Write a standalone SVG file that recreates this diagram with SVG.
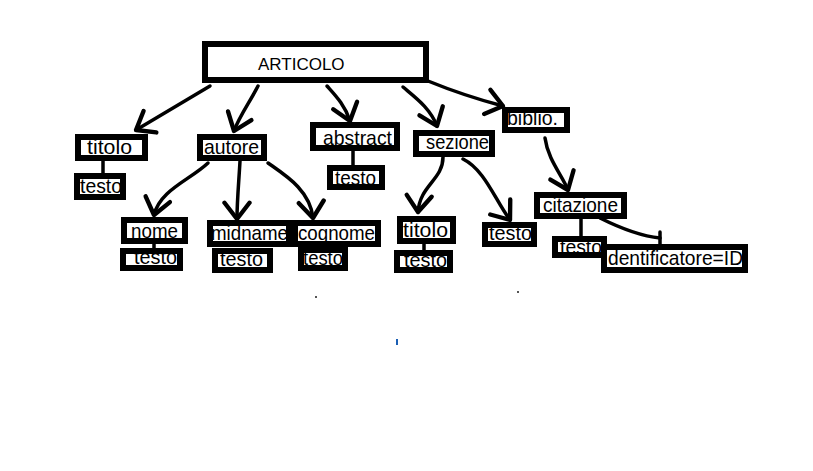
<svg xmlns="http://www.w3.org/2000/svg" width="813" height="471" viewBox="0 0 813 471">
<style>
.box{fill:#fff;stroke:#000;stroke-width:6}
.t{font-family:"Liberation Sans",Arial,sans-serif;font-size:21px;fill:#000}
.big{font-size:17px}
.c{fill:none;stroke:#000;stroke-width:3.5;stroke-linecap:round;stroke-linejoin:round}
.a{marker-end:url(#arr)}
</style>
<defs>
<marker id="arr" markerUnits="userSpaceOnUse" markerWidth="30" markerHeight="30" refX="0" refY="0" viewBox="-16 -12 20 24" orient="auto">
<path d="M-13,-10 L0,0 L-13,10" fill="none" stroke="#000" stroke-width="3.5" stroke-linecap="round" stroke-linejoin="round"/>
</marker>
</defs>
<rect width="813" height="471" fill="#fff"/>
<g id="connectors">
<path class="c a" d="M210,86 L136,130" stroke-width="5"/>
<path class="c a" d="M258,86 C250,102 240,115 234,131"/>
<path class="c a" d="M327,86 C335,95 345,105 350,121"/>
<path class="c a" d="M403,87 C416,98 430,108 437,126"/>
<path class="c a" d="M428,81 C455,92 480,100 503,106"/>
<path class="c a" d="M208,163 C190,180 160,190 154,215"/>
<path class="c a" d="M240,161 C239,180 237,200 237,219"/>
<path class="c a" d="M268,163 C285,175 310,190 313,218"/>
<path class="c a" d="M443,157 C443,180 420,185 418,212"/>
<path class="c a" d="M463,159 C485,170 495,200 510,220"/>
<path class="c a" d="M545,138 C548,160 562,175 568,190"/>
<path class="c" d="M600,218 C620,228 640,236 660,238"/>
<path class="c" d="M660,232 L660,246"/>
<path class="c" d="M103,161 L103,174"/>
<path class="c" d="M353,151 L353,165"/>
<path class="c" d="M154,244 L154,248"/>
<path class="c" d="M325,246 L325,248"/>
<path class="c" d="M424,244 L424,250"/>
<path class="c" d="M581,219 L581,236"/>
</g>
<g id="articolo"><rect class="box" x="205" y="44" width="221" height="36"/><text class="t big" x="258" y="70">ARTICOLO</text></g>
<g id="titolo"><rect class="box" x="78" y="137" width="67" height="21"/><text class="t" x="87" y="154" textLength="45" lengthAdjust="spacingAndGlyphs">titolo</text></g>
<g id="titolo-testo"><rect class="box" x="77" y="176" width="46" height="21"/><text class="t" x="80" y="193" textLength="42" lengthAdjust="spacingAndGlyphs">testo</text></g>
<g id="autore"><rect class="box" x="200" y="137" width="64" height="21"/><text class="t" x="204" y="154" textLength="55" lengthAdjust="spacingAndGlyphs">autore</text></g>
<g id="abstract"><rect class="box" x="313" y="125" width="84" height="23"/><text class="t" x="323" y="145" textLength="69" lengthAdjust="spacingAndGlyphs">abstract</text></g>
<g id="abstract-testo"><rect class="box" x="330" y="168" width="52" height="19"/><text class="t" x="335" y="185" textLength="41" lengthAdjust="spacingAndGlyphs">testo</text></g>
<g id="sezione"><rect class="box" x="416" y="133" width="76" height="21"/><text class="t" x="426" y="149" textLength="63" lengthAdjust="spacingAndGlyphs">sezione</text></g>
<g id="biblio"><rect class="box" x="505" y="110" width="62" height="20"/><text class="t" x="507" y="125" textLength="51" lengthAdjust="spacingAndGlyphs">biblio.</text></g>
<g id="nome"><rect class="box" x="124" y="220" width="61" height="21"/><text class="t" x="131" y="238" textLength="47" lengthAdjust="spacingAndGlyphs">nome</text></g>
<g id="nome-testo"><rect class="box" x="123" y="251" width="57" height="17"/><text class="t" x="134" y="264" textLength="43" lengthAdjust="spacingAndGlyphs">testo</text></g>
<g id="midname"><rect class="box" x="210" y="223" width="79" height="21"/><text class="t" x="211" y="240" textLength="77" lengthAdjust="spacingAndGlyphs">midname</text></g>
<g id="midname-testo"><rect class="box" x="215" y="251" width="55" height="19"/><text class="t" x="220" y="266" textLength="43" lengthAdjust="spacingAndGlyphs">testo</text></g>
<g id="cognome"><rect class="box" x="295" y="223" width="83" height="21"/><text class="t" x="298" y="240" textLength="77" lengthAdjust="spacingAndGlyphs">cognome</text></g>
<g id="cognome-testo"><rect class="box" x="301" y="250" width="44" height="18" stroke-width="4"/><text class="t" x="303" y="265" textLength="40" lengthAdjust="spacingAndGlyphs">testo</text></g>
<g id="sezione-titolo"><rect class="box" x="400" y="219" width="53" height="22"/><text class="t" x="403" y="237" textLength="45" lengthAdjust="spacingAndGlyphs">titolo</text></g>
<g id="sezione-titolo-testo"><rect class="box" x="397" y="253" width="53" height="17"/><text class="t" x="404" y="267" textLength="43" lengthAdjust="spacingAndGlyphs">testo</text></g>
<g id="sezione-testo"><rect class="box" x="485" y="225" width="49" height="19"/><text class="t" x="489" y="240" textLength="43" lengthAdjust="spacingAndGlyphs">testo</text></g>
<g id="citazione"><rect class="box" x="537" y="195" width="87" height="21"/><text class="t" x="543" y="212" textLength="75" lengthAdjust="spacingAndGlyphs">citazione</text></g>
<g id="citazione-testo"><rect class="box" x="555" y="239" width="49" height="16"/><text class="t" x="560" y="254" textLength="42" lengthAdjust="spacingAndGlyphs">testo</text></g>
<g id="identificatore"><rect class="box" x="604" y="247" width="141" height="23"/><text class="t" x="608" y="265" textLength="135" lengthAdjust="spacingAndGlyphs">dentificatore=ID</text></g>
<rect x="315" y="296" width="2" height="2" fill="#555"/>
<rect x="517" y="291" width="2" height="2" fill="#555"/>
<rect x="396" y="339" width="2" height="6" fill="#1a5fb4"/>
</svg>
